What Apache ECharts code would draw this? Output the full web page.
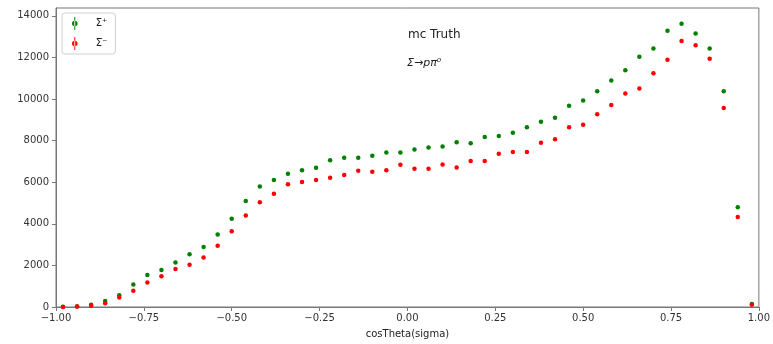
<!DOCTYPE html>
<html>
<head>
<meta charset="utf-8">
<script src="https://cdn.jsdelivr.net/npm/echarts@6/dist/echarts.min.js"></script>
<style>html,body{margin:0;padding:0;background:#fff}#c{width:773px;height:344px}</style>
</head>
<body>
<div id="c"></div>
<script>
const binCenters = [-0.98,-0.94,-0.90,-0.86,-0.82,-0.78,-0.74,-0.70,-0.66,-0.62,-0.58,-0.54,-0.50,-0.46,-0.42,-0.38,-0.34,-0.30,-0.26,-0.22,-0.18,-0.14,-0.10,-0.06,-0.02,0.02,0.06,0.10,0.14,0.18,0.22,0.26,0.30,0.34,0.38,0.42,0.46,0.50,0.54,0.58,0.62,0.66,0.70,0.74,0.78,0.82,0.86,0.90,0.94,0.98];
const sigmaPlus = [10,30,110,290,570,1080,1540,1780,2140,2540,2890,3490,4240,5100,5795,6110,6414,6571,6700,7062,7176,7176,7271,7429,7429,7571,7667,7714,7919,7871,8176,8224,8381,8650,8910,9100,9683,9937,10381,10889,11381,12032,12429,13286,13619,13159,12429,10381,4794,150];
const sigmaBarMinus = [5,20,60,175,460,780,1175,1480,1825,2030,2380,2940,3640,4400,5040,5444,5905,6016,6111,6222,6349,6556,6508,6571,6841,6651,6651,6857,6714,7016,7016,7365,7460,7460,7905,8063,8650,8762,9270,9714,10270,10508,11238,11889,12794,12587,11937,9571,4333,110];
const yTicks = [0,2000,4000,6000,8000,10000,12000,14000];
const seriesNames = ['Σ⁺', 'Σ̅⁻'];

const chart = echarts.init(document.getElementById('c'), null, {renderer: 'canvas'});
const font = 'DejaVu Sans';
const errIcon = 'path://M3.5,0 L4.5,0 L4.5,14 L3.5,14 Z M1,7 A3,3 0 1,0 7,7 A3,3 0 1,0 1,7 Z';
chart.setOption({
  animation: false,
  backgroundColor: '#fff',
  grid: {left: 56, right: 11, top: 8, bottom: 34, show: true, borderColor: '#777', borderWidth: 1},
  legend: {
    left: 62, top: 13, orient: 'vertical',
    padding: [4, 8, 4, 10],
    itemWidth: 8, itemHeight: 13, itemGap: 7,
    borderColor: '#d0d0d0', borderWidth: 1, borderRadius: 3,
    backgroundColor: '#fff',
    itemStyle: {opacity: 1},
    formatter: n => '{t|' + n + '}',
    textStyle: {fontFamily: font, fontSize: 10, color: '#222',
      rich: {t: {fontFamily: font, fontSize: 10, color: '#222', padding: [0, 0, 0, 12]}}},
    data: [{name: seriesNames[0], icon: errIcon}, {name: seriesNames[1], icon: errIcon}]
  },
  xAxis: {
    type: 'value', min: -1, max: 1, interval: 0.25,
    name: 'cosTheta(sigma)', nameLocation: 'middle', nameGap: 22,
    nameTextStyle: {fontFamily: font, fontSize: 10, color: '#222'},
    axisLine: {show: true, onZero: false, lineStyle: {color: '#777', width: 1}},
    axisTick: {show: true, length: 4, lineStyle: {color: '#777'}},
    axisLabel: {fontFamily: font, fontSize: 10, color: '#333', margin: 6,
      formatter: v => (v < 0 ? '\u2212' : '') + Math.abs(v).toFixed(2)},
    splitLine: {show: false}
  },
  yAxis: {
    type: 'value', min: 0, max: 14380,
    axisLine: {show: true, onZero: false, lineStyle: {color: '#777', width: 1}},
    axisTick: {show: true, length: 4, lineStyle: {color: '#777'}, customValues: yTicks},
    axisLabel: {fontFamily: font, fontSize: 10, color: '#333', margin: 7, customValues: yTicks,
      formatter: v => String(v)},
    splitLine: {show: false}
  },
  graphic: [
    {type: 'text', left: 408, top: 29, style: {text: 'mc Truth', fontFamily: font, fontSize: 12, fill: '#222'}},
    {type: 'text', left: 407, top: 58, style: {text: 'Σ→pπ⁰', fontFamily: font, fontSize: 11, fontStyle: 'italic', fill: '#222'}}
  ],
  series: [
    {name: seriesNames[0], type: 'scatter', symbol: 'circle', symbolSize: 4.5,
     itemStyle: {color: '#008000', opacity: 1}, data: binCenters.map((x, i) => [x, sigmaPlus[i]])},
    {name: seriesNames[1], type: 'scatter', symbol: 'circle', symbolSize: 4.5,
     itemStyle: {color: '#ff0000', opacity: 1}, data: binCenters.map((x, i) => [x, sigmaBarMinus[i]])}
  ]
});
</script>
</body>
</html>
